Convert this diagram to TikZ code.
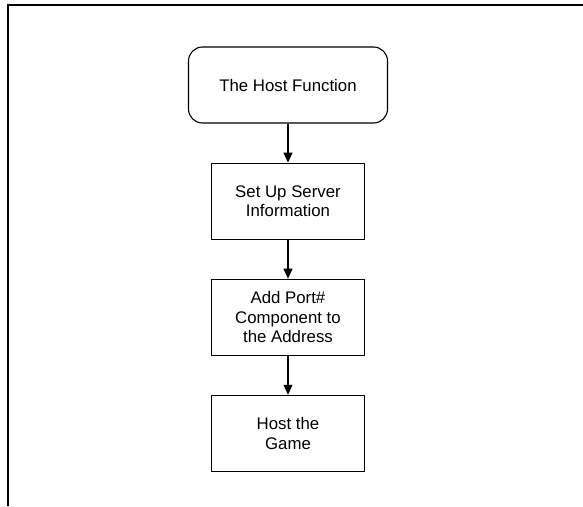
\documentclass[tikz,border=0pt]{standalone}
\usepackage{fontspec}
\setmainfont{Liberation Sans}
\usetikzlibrary{arrows.meta, positioning}

\begin{document}
\begin{tikzpicture}[
    x=1pt, y=-1pt,
    node distance=39pt,
    box/.style={
        rectangle, draw, line width=1.1pt,
        minimum width=153pt, minimum height=76pt,
        align=center, font=\fontsize{16.8}{19.5}\selectfont
    },
    arrow/.style={-{Triangle[length=10pt,width=9pt]}, line width=1.1pt}
]
    \useasboundingbox (0,0) rectangle (583,506);

    %% Page frame
    \coordinate (frameR) at (583,5);
    \coordinate (frameTL) at (8,5);
    \coordinate (frameB) at (8,506);
    \draw[line width=2pt] (frameR) -- (frameTL) -- (frameB);

    \node[box, rounded corners=14pt, minimum width=199pt] (hostfn) at (288,85) {The Host Function};
    \node[box, below=of hostfn] (setup) {Set Up Server\\Information};
    \node[box, below=of setup] (addport) {Add Port\#\\Component to\\the Address};
    \node[box, below=of addport] (hostgame) {Host the\\Game};

    \draw[arrow] (hostfn) -- (setup);
    \draw[arrow] (setup) -- (addport);
    \draw[arrow] (addport) -- (hostgame);
\end{tikzpicture}
\end{document}
